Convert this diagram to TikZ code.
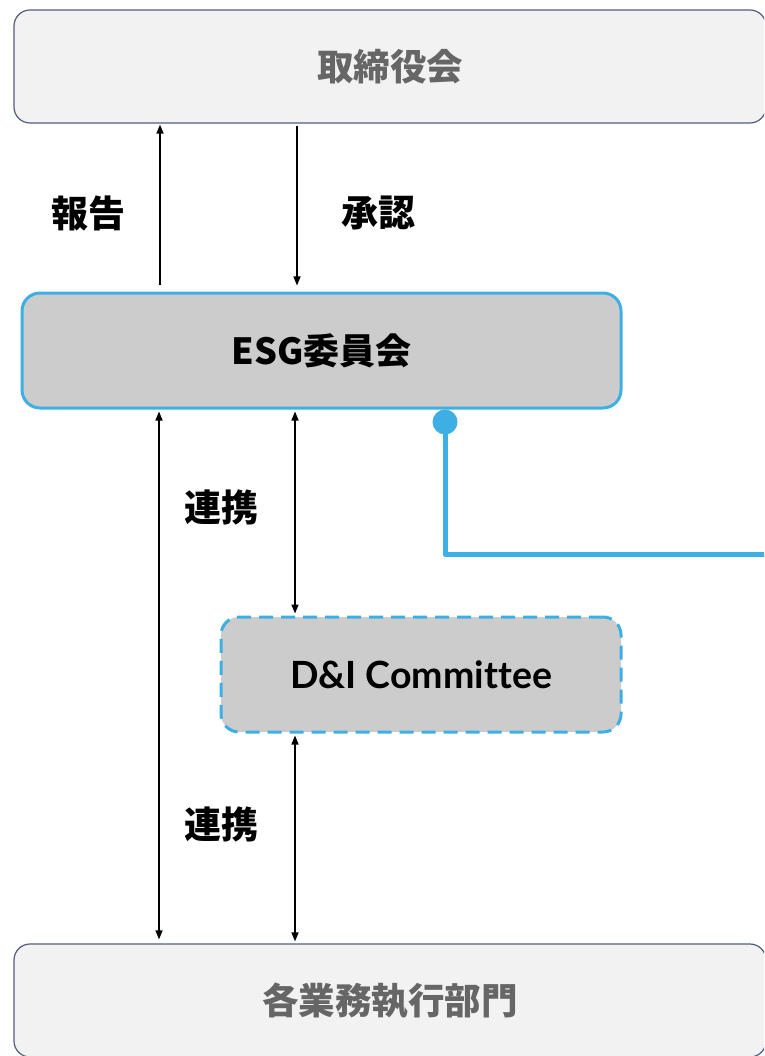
\documentclass[tikz,border=0pt]{standalone}
\usepackage{fontspec}
\newfontfamily\cjk{Noto Sans CJK JP}
\newfontfamily\lato{Lato}[Ligatures=NoCommon]
\usetikzlibrary{arrows.meta}
\definecolor{blueB}{HTML}{3EAFE4}
\definecolor{lightg}{HTML}{F2F2F2}
\definecolor{midg}{HTML}{CCCCCC}
\definecolor{txtgray}{HTML}{666666}
\definecolor{slate}{HTML}{505E7E}
\tikzset{
  outerbox/.style={draw=slate, fill=lightg, rounded corners=16pt, line width=1.2pt,
    minimum width=752pt, minimum height=113pt, inner sep=0pt, text=txtgray,
    font=\cjk\bfseries\fontsize{36.5}{40}\selectfont},
  bluebox/.style={draw=blueB, fill=midg, rounded corners=18pt, line width=3pt,
    minimum height=115pt, inner sep=0pt, text=black},
  tip/.tip={Triangle[length=9pt,width=7pt]},
  arr/.style={line width=1.4pt, -tip},
  darr/.style={line width=1.4pt, tip-tip},
  lbl/.style={font=\cjk\bfseries\fontsize{37}{40}\selectfont, text=black, inner sep=0pt},
  link/.style={draw=blueB, line width=5pt, line join=round}
}
\begin{document}
\begin{tikzpicture}[x=1pt,y=-1pt]
\useasboundingbox (0,0) rectangle (764,1056);
\clip (0,0) rectangle (764,1056);
\node[outerbox] (board) at (390,66.5) {取締役会};
\node[outerbox] (depts) at (390,1000.5) {各業務執行部門};
\node[bluebox, minimum width=599pt, font=\cjk\bfseries\fontsize{36}{40}\selectfont] (esg) at (321.5,350.5) {ESG委員会};
\node[bluebox, dash pattern=on 14pt off 8pt, minimum width=400pt, font=\lato\bfseries\fontsize{37.5}{40}\selectfont] (di) at (421,674.5) {D\&I Committee};
\coordinate (xa) at (160,0);
\coordinate (xb) at (297,0);
\coordinate (xc) at (159,0);
\coordinate (xd) at (295,0);
\draw[arr, shorten <=6pt, shorten >=1pt] (esg.north -| xa) -- (board.south -| xa);
\draw[arr, shorten <=2pt, shorten >=6pt] (board.south -| xb) -- (esg.north -| xb);
\draw[darr, shorten <=2pt, shorten >=4pt] (esg.south -| xc) -- (depts.north -| xc);
\draw[darr, shorten <=2pt, shorten >=2pt] (esg.south -| xd) -- (di.north -| xd);
\draw[darr, shorten <=2pt, shorten >=2pt] (di.south -| xd) -- (depts.north -| xd);
\node[lbl] (l1) at (88,213) {報告};
\node[lbl] (l2) at (378,213) {承認};
\node[lbl] (l3) at (221,507) {連携};
\node[lbl] (l4) at (221,824) {連携};
\coordinate (dot) at (445,422);
\coordinate (linkend) at (780,554);
\fill[blueB] (dot) circle (12.5pt);
\draw[link] (dot) |- (linkend);
\end{tikzpicture}
\end{document}
